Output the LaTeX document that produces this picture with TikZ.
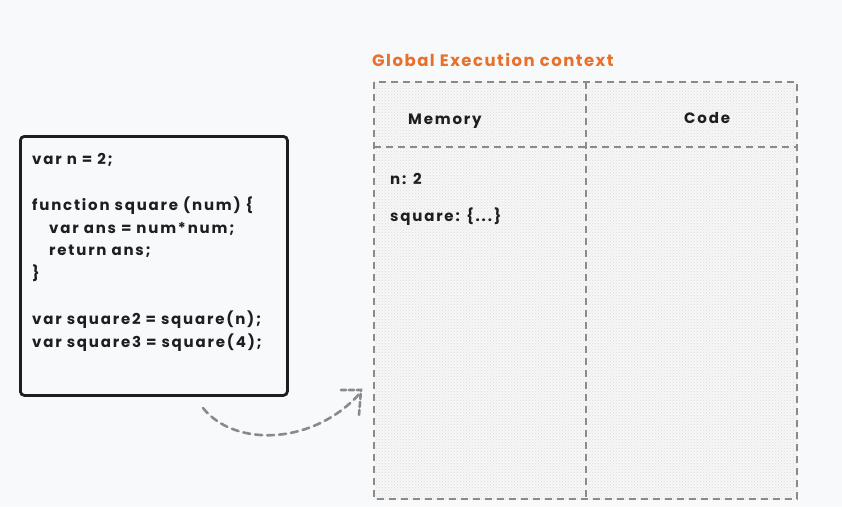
\documentclass[tikz,border=0pt]{standalone}
\usepackage{fontspec}
\setmainfont{Poppins}
\newfontfamily\handfont{Poppins}[LetterSpace=12]
\newfontfamily\titlefont{Poppins}[LetterSpace=9]
\usetikzlibrary{patterns,arrows.meta}
\definecolor{bgc}{HTML}{F8F9FB}
\definecolor{dashgray}{HTML}{8A8A8A}
\definecolor{titleorange}{HTML}{E8702A}
\definecolor{txt}{HTML}{1E1E1E}
\tikzset{
  x=1pt,y=-1pt,
  region/.style={draw=dashgray,line width=2.6pt,dash pattern=on 7pt off 5pt,fill=gray!6},
  hatch/.style={pattern=crosshatch dots,pattern color=gray!28},
  codebox/.style={draw=txt,line width=2.8pt,rounded corners=4pt,fill=bgc},
  lbl/.style={anchor=base west,inner sep=0pt,text=txt,font=\handfont\bfseries\fontsize{15}{17}\selectfont},
  codetxt/.style={anchor=north west,inner sep=0pt,text=txt,align=left,font=\handfont\bfseries\fontsize{15}{22.9}\selectfont},
  link/.style={draw=dashgray,line width=2.6pt,dash pattern=on 7pt off 5pt,line cap=round}
}
\begin{document}
\begin{tikzpicture}
\fill[bgc] (0,0) rectangle (842,507);
\useasboundingbox (0,0) rectangle (842,507);
% global context regions
\path[region] (374,82) rectangle (797,499);
\path[hatch] (374,82) rectangle (797,499);
\draw[region,fill=none] (374,82) rectangle (797,499);
\draw[region,fill=none] (586,82) -- (586,499);
\draw[region,fill=none] (374,147) -- (797,147);
\node[anchor=base west,inner sep=0pt,text=titleorange,font=\titlefont\bfseries\fontsize{16.5}{18}\selectfont] (title) at (372,66) {Global Execution context};
\node[lbl] (mem) at (408,124) {Memory};
\node[lbl] (code) at (684,123) {Code};
\node[lbl] (nval) at (390,184) {n: 2};
\node[lbl] (sqval) at (390,221) {square: \{...\}};
% code box
\node[codebox,minimum width=267pt,minimum height=259pt,anchor=north west] (src) at (19,135) {};
\node[codetxt] (srctext) at (32,153) {var n = 2;\\\mbox{}\\function square (num) \{\\\hspace*{17pt}var ans = num*num;\\\hspace*{17pt}return ans;\\\}\\\mbox{}\\var square2 = square(n);\\var square3 = square(4);};
% arrow
\coordinate (a0) at (203,408);
\coordinate (a1) at (361,392);
\draw[link] (a0) .. controls (235,448) and (315,445) .. (a1);
\draw[link,dash pattern=on 5pt off 3pt] (341,390) -- (361,390) -- (359,415);
\end{tikzpicture}
\end{document}
